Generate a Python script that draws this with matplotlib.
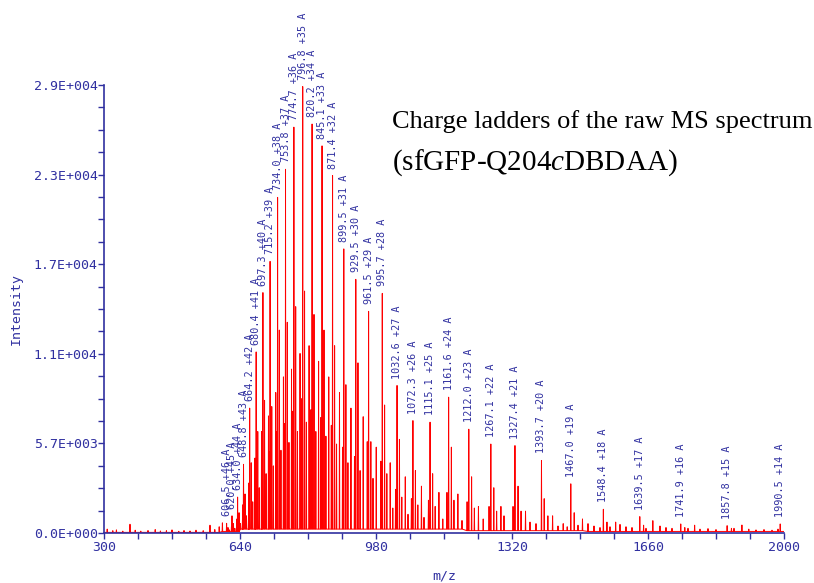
import numpy as np
import matplotlib.pyplot as plt
from matplotlib.ticker import MultipleLocator, FuncFormatter

plt.rcParams['mathtext.fontset'] = 'custom'
plt.rcParams['mathtext.rm'] = 'Liberation Serif'
plt.rcParams['mathtext.it'] = 'Liberation Serif:italic'

# charge ladder (labelled peaks)
ladder_z = [46, 45, 44, 43, 42, 41, 40, 39, 38, 37, 36, 35, 34, 33, 32, 31, 30,
            29, 28, 27, 26, 25, 24, 23, 22, 21, 20, 19, 18, 17, 16, 15, 14]
ladder_mz = [606.5, 620.0, 634.0, 648.8, 664.2, 680.4, 697.3, 715.2, 734.0, 753.8,
             774.7, 796.8, 820.2, 845.1, 871.4, 899.5, 929.5, 961.5, 995.7, 1032.6,
             1072.3, 1115.1, 1161.6, 1212.0, 1267.1, 1327.4, 1393.7, 1467.0, 1548.4,
             1639.5, 1741.9, 1857.8, 1990.5]
ladder_int = [620, 1100, 2300, 4400, 8000, 11600, 15400, 17400, 21500, 23300,
              26000, 28600, 26200, 24800, 22900, 18200, 16250, 14200, 15350, 9450,
              7200, 7100, 8700, 6650, 5700, 5600, 4650, 3150, 1520,
              1050, 580, 470, 580]

# adduct peaks right after each ladder peak
adductA_mz = [610.0, 623.6, 637.7, 652.6, 668.1, 684.4, 701.4, 719.4, 738.3, 758.2,
              779.2, 801.4, 825.0, 850.0, 876.5, 904.7, 934.9, 967.1, 1001.5, 1038.6,
              1078.5, 1121.6, 1168.4, 1219.0, 1274.5, 1335.1, 1400.5, 1475.5, 1557.4,
              1649.0, 1752.0, 1868.6]
adductA_int = [350, 600, 1300, 2500, 4500, 6500, 8500, 8100, 13000, 13500,
               14500, 15500, 14000, 13000, 12000, 9500, 10900, 5850, 8200, 6000,
               4000, 3800, 5500, 3600, 2900, 3000, 2200, 1300, 700,
               500, 350, 300]

# second species between ladder peaks
adductB_mz = [618.6, 632.3, 646.6, 661.7, 677.4, 693.9, 711.2, 729.4, 748.6, 768.8,
              790.1, 812.7, 836.5, 861.9, 888.7, 917.4, 948.0, 980.6, 1015.5, 1053.2,
              1093.6, 1137.3, 1184.7, 1236.1, 1292.3, 1353.8, 1421.5, 1496.2, 1579.2,
              1672.1, 1776.6, 1894.8]
adductB_int = [400, 900, 1800, 3200, 4800, 6500, 7500, 9000, 10000, 10500,
               11500, 12000, 11000, 10000, 9000, 8000, 7450, 5500, 4500, 3600,
               3000, 2600, 2500, 1700, 1700, 1400, 1100, 900, 700,
               790, 500, 512]

# third species
adductC_mz = [613.5, 627.1, 641.3, 656.2, 671.8, 688.2, 705.3, 723.4, 742.4, 762.4,
              783.6, 805.9, 829.6, 854.8, 881.4, 909.8, 940.2, 972.5, 1007.1, 1044.5,
              1084.6, 1127.9, 1174.9, 1225.9, 1281.6, 1342.6, 1409.7]
adductC_int = [200, 300, 600, 1100, 2000, 2900, 3800, 4300, 5300, 5800,
               6500, 7100, 6500, 6200, 5700, 4500, 4000, 3500, 3800, 2300,
               1800, 1700, 2100, 1600, 1400, 1400, 1100]

# shoulder just before each ladder peak
shoulder_mz = [631.7, 646.5, 661.8, 678.0, 694.8, 712.6, 731.4, 751.1, 771.9, 793.9,
               817.3, 842.1, 868.3, 896.3, 926.2, 958.1, 992.1, 1028.9, 1068.5, 1111.1,
               1157.4, 1207.7, 1262.6, 1322.6]
shoulder_int = [700, 1300, 2400, 3500, 4600, 5200, 6500, 7000, 7800, 8600,
                7900, 7400, 6900, 5500, 4900, 5850, 4600, 2800, 2200, 2100,
                2600, 2000, 1700, 1700]

# small background peaks
noise_mz = [308, 322, 331, 347, 365, 378, 392, 410, 428, 441, 456, 470, 487, 500,
            515, 530, 548, 565, 577, 588, 596,
            1022, 1060, 1100, 1147, 1195, 1248, 1300, 1365, 1380, 1435, 1448, 1458,
            1485, 1510, 1525, 1540, 1565, 1590, 1605, 1620, 1655, 1690, 1705, 1720,
            1760, 1790, 1810, 1830, 1875, 1912, 1930, 1950, 1970, 1985]
noise_int = [250, 150, 200, 120, 560, 180, 120, 160, 220, 130, 150, 200, 110, 160,
             130, 180, 150, 500, 220, 400, 650,
             1600, 1200, 1000, 900, 800, 900, 1100, 700, 600, 450, 600, 400,
             500, 600, 450, 350, 400, 550, 400, 350, 300, 450, 350, 300,
             300, 250, 280, 220, 300, 250, 200, 220, 180, 250]

# baseline level between peaks
base_edges = [300, 590, 640, 1000, 1200, 1500]
base_levels = [40, 100, 250, 250, 150, 100]

blue = '#3030A0'

fig = plt.figure(figsize=(8.14, 5.83), dpi=100)
ax = fig.add_axes([104 / 814, 1 - 533 / 583, 680 / 814, 448 / 583])

pk_mz = np.concatenate([ladder_mz, adductA_mz, adductB_mz, adductC_mz,
                        shoulder_mz, noise_mz]).astype(float)
pk_int = np.concatenate([ladder_int, adductA_int, adductB_int, adductC_int,
                         shoulder_int, noise_int]).astype(float)
order = np.argsort(pk_mz)
pk_mz, pk_int = pk_mz[order], pk_int[order]
base = np.array(base_levels)[np.searchsorted(base_edges, pk_mz, side='right') - 1]
hw = 0.7
xs = np.column_stack([pk_mz - hw, pk_mz, pk_mz + hw]).ravel()
ys = np.column_stack([base, pk_int, base]).ravel()
xs = np.concatenate([[300], xs, [2000]])
ys = np.concatenate([[base_levels[0]], ys, [base_levels[-1]]])
ax.plot(xs, ys, color='red', lw=0.7)

for mz, z, inten in zip(ladder_mz, ladder_z, ladder_int):
    ax.annotate(f"{mz:.1f} +{z} A", (mz, inten), xytext=(0, 5), textcoords='offset points',
                rotation=90, ha='center', va='bottom', fontsize=7.3, color=blue,
                family='DejaVu Sans Mono', annotation_clip=False)

ax.set_xlim(300, 2000)
ax.set_ylim(0, 28700)
ax.xaxis.set_major_locator(MultipleLocator(340, offset=300))
ax.xaxis.set_minor_locator(MultipleLocator(85, offset=300))
ax.yaxis.set_major_locator(MultipleLocator(5740))
ax.yaxis.set_minor_locator(MultipleLocator(1435))


def sci(v, pos):
    mant, exp = f"{v:.1E}".split('E')
    return f"{mant}E{exp[0]}{int(exp[1:]):03d}"


ax.yaxis.set_major_formatter(FuncFormatter(sci))
for s in ['top', 'right']:
    ax.spines[s].set_visible(False)
for s in ['left', 'bottom']:
    ax.spines[s].set_color(blue)
    ax.spines[s].set_linewidth(1.2)
ax.tick_params(which='both', colors=blue, length=4, width=1)
ax.tick_params(axis='y', pad=0.5)
ax.tick_params(axis='x', pad=2)
for lab in ax.get_xticklabels() + ax.get_yticklabels():
    lab.set_family('DejaVu Sans Mono')
    lab.set_fontsize(9.5)
ax.set_xlabel('m/z', color=blue, family='DejaVu Sans Mono', fontsize=9.5, labelpad=11)
ax.set_ylabel('Intensity', color=blue, family='DejaVu Sans Mono', fontsize=9.5, labelpad=8)

fig.text(392 / 814, 1 - 122 / 583, "Charge ladders of the raw MS spectrum",
         fontsize=19, family='Liberation Serif', va='center', ha='left')
fig.text(392 / 814, 1 - 163 / 583, r"(sfGFP-Q204$\mathit{c}$DBDAA)",
         fontsize=21, family='Liberation Serif', va='center', ha='left')

fig.savefig('out.png', dpi=100)
